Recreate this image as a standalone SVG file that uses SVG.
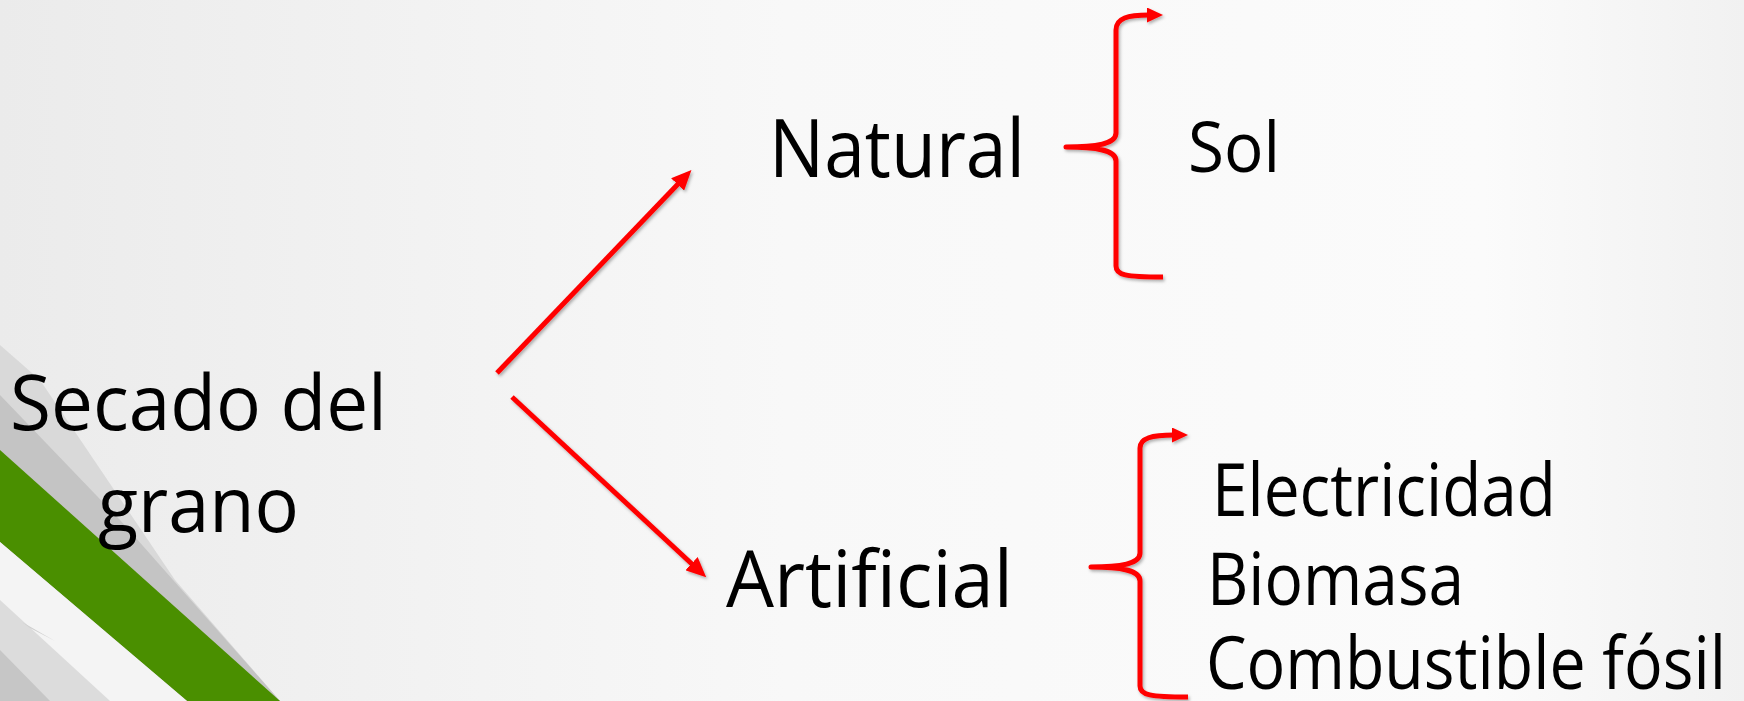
<svg xmlns="http://www.w3.org/2000/svg" width="1744" height="701" viewBox="0 0 1744 701">
<defs>
<linearGradient id="bg" x1="0" y1="0" x2="1" y2="0">
<stop offset="0" stop-color="#ebebeb"/>
<stop offset="0.45" stop-color="#f8f8f8"/>
<stop offset="0.85" stop-color="#fbfbfb"/>
<stop offset="1" stop-color="#f1f1f1"/>
</linearGradient>
<filter id="sh" x="-10%" y="-10%" width="130%" height="130%">
<feDropShadow dx="1.5" dy="2" stdDeviation="1.5" flood-color="#000" flood-opacity="0.3"/>
</filter>
<marker id="ah" markerUnits="userSpaceOnUse" markerWidth="20" markerHeight="18" refX="2" refY="9" orient="auto">
<path d="M0,0 L20,9 L0,18 z" fill="#ff0000"/>
</marker>
<marker id="bh" markerUnits="userSpaceOnUse" markerWidth="16" markerHeight="15" refX="2" refY="7.5" orient="auto">
<path d="M0,0 L16,7.5 L0,15 z" fill="#ff0000"/>
</marker>
</defs>
<style>
.t{font-family:"Open Sans","Noto Sans","Liberation Sans",sans-serif;fill:#000;lengthAdjust:spacingAndGlyphs}
.c{fill:none;stroke:#ff0000;stroke-width:5;stroke-linecap:butt;stroke-linejoin:round}
</style>
<rect x="0" y="0" width="1744" height="701" fill="url(#bg)"/>
<g id="decoration">
<polygon points="0,345 40,380 175,580 280,701 0,701" fill="#d9d9d9"/>
<polygon points="0,395 120,520 280,701 0,701" fill="#c4c4c4"/>
<polygon points="0,450 280,701 187,701 0,542" fill="#4a8f00"/>
<polygon points="0,542 187,701 0,701" fill="#f4f4f4"/>
<polygon points="0,600 110,701 0,701" fill="#dcdcdc"/>
<polygon points="0,650 50,701 0,701" fill="#c6c6c6"/>
<polygon points="22,622 55,641 30,628" fill="#cfcfcf"/>
</g>
<g id="connectors" filter="url(#sh)">
<line class="c" x1="497" y1="373" x2="679" y2="183" marker-end="url(#ah)"/>
<line class="c" x1="512" y1="397" x2="693" y2="565" marker-end="url(#ah)"/>
<path class="c" d="M1163,277 C1125,277 1116,275 1116,266 L1116,161 C1116,151 1100,147 1066,147 C1100,147 1116,143 1116,133 L1116,30 C1116,18 1128,15 1149,15" marker-end="url(#bh)"/>
<path class="c" d="M1188,697 C1150,697 1140,695 1140,686 L1140,581 C1140,571 1124,567 1091,567 C1124,567 1140,563 1140,553 L1140,448 C1140,438 1152,435 1174,435" marker-end="url(#bh)"/>
</g>
<g id="node-secado">
<text class="t" x="10" y="430" font-size="77" textLength="377" lengthAdjust="spacingAndGlyphs">Secado del</text>
<text class="t" x="98" y="532" font-size="77" textLength="201" lengthAdjust="spacingAndGlyphs">grano</text>
</g>
<g id="node-natural">
<text class="t" x="769" y="177" font-size="80" textLength="256" lengthAdjust="spacingAndGlyphs">Natural</text>
</g>
<g id="node-sol">
<text class="t" x="1188" y="172" font-size="69" textLength="92" lengthAdjust="spacingAndGlyphs">Sol</text>
</g>
<g id="node-artificial">
<text class="t" x="726" y="607" font-size="78" textLength="287" lengthAdjust="spacingAndGlyphs">Artificial</text>
</g>
<g id="node-fuentes">
<text class="t" x="1212" y="516" font-size="73" textLength="344" lengthAdjust="spacingAndGlyphs">Electricidad</text>
<text class="t" x="1207" y="605" font-size="73" textLength="257" lengthAdjust="spacingAndGlyphs">Biomasa</text>
<text class="t" x="1206" y="689" font-size="73" textLength="520" lengthAdjust="spacingAndGlyphs">Combustible fósil</text>
</g>
</svg>
